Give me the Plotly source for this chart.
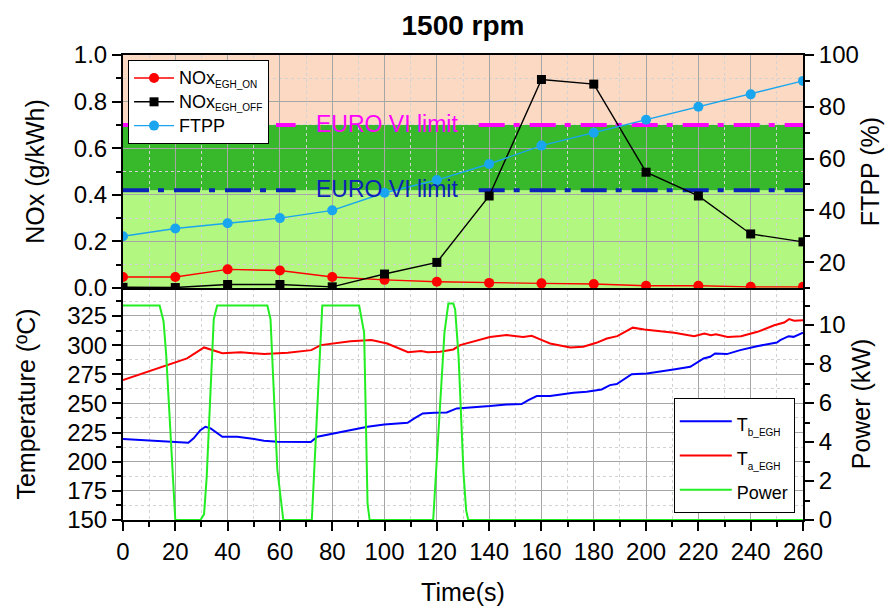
import plotly.graph_objects as go

# ---------------- data ----------------
time_pts = [0, 20, 40, 60, 80, 100, 120, 140, 160, 180, 200, 220, 240, 260]
nox_egh_on = [0.047, 0.047, 0.08, 0.075, 0.047, 0.035, 0.027, 0.022, 0.02, 0.017, 0.01, 0.01, 0.005, 0.005]
nox_egh_off = [0.003, 0.002, 0.015, 0.015, 0.005, 0.06, 0.11, 0.395, 0.895, 0.875, 0.497, 0.395, 0.232, 0.198]
ftpp = [30.0, 33.0, 35.0, 37.0, 40.0, 46.8, 51.7, 57.9, 65.0, 70.0, 75.0, 80.0, 84.8, 90.0]

euro_limit_high = 0.70
euro_limit_low = 0.42

tb_time = [0, 10.5, 19.4, 25, 27, 29.6, 31.5, 33.5, 38, 43.7, 48.8, 53.9, 59, 65.4, 71.8, 74.3, 80.7,
           87, 93.5, 99.9, 108.8, 111.4, 114.6, 119, 123.8, 127.6, 134, 140.3, 146.7, 152.4, 155,
           158.2, 163.3, 172.2, 177.3, 183, 186.2, 188.8, 194.5, 200.3, 210.5, 216.9, 222, 224.5,
           226.4, 230.9, 236, 242.4, 250, 251.3, 254.5, 256.4, 260]
tb_temp = [219.4, 218, 216.6, 216.3, 220, 227, 230, 228.6, 221.4, 221.4, 220, 218, 217.1, 216.9, 216.9,
           221.4, 224.3, 227.7, 230, 232, 233.4, 237.1, 241.4, 242, 242.3, 245.7, 246.6, 247.7, 249.1,
           249.4, 252.9, 256.3, 256.3, 259.1, 260, 262, 265.7, 266.6, 275, 275.7, 279.1, 281.4, 288.6,
           290, 292.9, 292.3, 295.7, 299.1, 302.3, 304.3, 307.7, 307.1, 310.6]

ta_time = [0, 24.5, 31, 38, 45, 54, 63, 72, 75.6, 80.7, 87, 95, 101, 109, 114, 116.5, 121.2, 126.3,
           128.9, 140.3, 146.7, 153, 156.3, 159.5, 163.3, 171, 176, 181, 185, 189, 194.9, 199.3,
           210.8, 218.4, 222.3, 224.8, 226.7, 231.2, 236.3, 242.6, 249, 252.8, 254.7, 256.6, 260]
ta_temp = [270, 288.6, 298, 293, 294, 292.3, 293.4, 295.7, 300, 301.4, 303.4, 304.3, 301.4, 294, 295,
           294, 294.3, 296.3, 300, 307, 308.6, 307, 308, 305, 301.4, 298, 298.6, 302, 305.7, 307.7,
           315, 313.4, 310.6, 307.7, 310, 308.6, 309.4, 307, 307.7, 311.4, 317, 319.4, 322.3, 320.9, 321.4]

power_time = [0, 14, 15.5, 16.5, 20, 29.6, 31, 32, 34.7, 36, 55.2, 56.4, 59, 61.3, 72.2, 76.2, 90.3,
              92.2, 93.5, 94.3, 118.6, 122.9, 124.4, 126.3, 127, 128.3, 130.2, 131.2, 132, 260]
power_kw = [11.0, 11.0, 10.2, 8.5, 0, 0, 0.3, 2.2, 10.3, 11.0, 11.0, 10.3, 2.6, 0, 0, 11.0, 11.0,
            9.6, 0.85, 0, 0, 9.6, 11.1, 11.1, 10.8, 8.4, 2.4, 0.5, 0, 0]

x_ticks = list(range(0, 261, 20))

# ---------------- style ----------------
FONT = "Liberation Sans, Arial, sans-serif"
GRID = "#A6A6A6"
MINOR_GRID = "#D2D2D2"
PEACH = "#FBD9C2"
DARK_GREEN = "#38B82B"
LIGHT_GREEN = "#B2F77F"
MAGENTA = "#FF00FF"
DBLUE = "#0A22B8"
LIMIT_DASH = "26px,9px,6px,10px"
LABEL_SPAN = (66, 136)   # time span occupied by the "EURO VI limit" label


def lbl(main, sub=None, size=18, subsize=10):
    s = f"<span style='font-size:{size}px'>{main}</span>"
    if sub:
        s += f"<sub><span style='font-size:{subsize}px'>{sub}</span></sub>"
    return s


fig = go.Figure()

# background bands (top panel)
for y0, y1, col in [(0, euro_limit_low, LIGHT_GREEN),
                    (euro_limit_low, euro_limit_high, DARK_GREEN),
                    (euro_limit_high, 1.0, PEACH)]:
    fig.add_shape(type="rect", xref="x2 domain", yref="y", x0=0, x1=1, y0=y0, y1=y1,
                  fillcolor=col, line=dict(width=0), layer="below")

# limit lines with gap for labels
t0, t1 = time_pts[0], time_pts[-1]
for lim, col in [(euro_limit_high, MAGENTA), (euro_limit_low, DBLUE)]:
    fig.add_trace(go.Scatter(x=[t0, LABEL_SPAN[0], None, LABEL_SPAN[1], t1],
                             y=[lim, lim, None, lim, lim], xaxis="x2", yaxis="y",
                             mode="lines", line=dict(color=col, width=4, dash=LIMIT_DASH),
                             showlegend=False, hoverinfo="skip"))
    fig.add_annotation(x=101, y=lim, xref="x2", yref="y",
                       text="EURO VI limit", showarrow=False,
                       font=dict(family=FONT, size=23, color=col), yshift=1)

fig.add_trace(go.Scatter(x=time_pts, y=nox_egh_on, xaxis="x2", yaxis="y", mode="lines+markers",
                         name=lbl("NOx", "EGH_ON"), line=dict(color="#FF0000", width=1.4),
                         marker=dict(symbol="circle", size=10, color="#FF0000"), legend="legend"))
fig.add_trace(go.Scatter(x=time_pts, y=nox_egh_off, xaxis="x2", yaxis="y", mode="lines+markers",
                         name=lbl("NOx", "EGH_OFF"), line=dict(color="#000000", width=1.4),
                         marker=dict(symbol="square", size=9, color="#000000"), legend="legend"))
fig.add_trace(go.Scatter(x=time_pts, y=ftpp, xaxis="x2", yaxis="y2", mode="lines+markers",
                         name=lbl("FTPP"), line=dict(color="#1AA6EE", width=1.4),
                         marker=dict(symbol="circle", size=10, color="#1AA6EE"), legend="legend"))

fig.add_trace(go.Scatter(x=tb_time, y=tb_temp, xaxis="x", yaxis="y3", mode="lines",
                         name=lbl("T", "b_EGH"), line=dict(color="#0000FF", width=2), legend="legend2"))
fig.add_trace(go.Scatter(x=ta_time, y=ta_temp, xaxis="x", yaxis="y3", mode="lines",
                         name=lbl("T", "a_EGH"), line=dict(color="#FF0000", width=2), legend="legend2"))
fig.add_trace(go.Scatter(x=power_time, y=power_kw, xaxis="x", yaxis="y4", mode="lines",
                         name=lbl("Power"), line=dict(color="#22EE22", width=2), legend="legend2",
                         cliponaxis=False))

SPLIT = 0.4989
tickfont = dict(family=FONT, size=24, color="#000")
titlefont = dict(family=FONT, size=25, color="#000")

common_y = dict(showline=True, linecolor="#000", linewidth=2, ticks="outside", ticklen=9,
                tickwidth=1.5, tickcolor="#000", tickfont=tickfont, zeroline=False, automargin=False)

fig.update_layout(
    width=893, height=610,
    margin=dict(l=123, r=90, t=55, b=90),
    paper_bgcolor="white", plot_bgcolor="white",
    font=dict(family=FONT, color="#000"),
    title=dict(text="<b>1500 rpm</b>", x=0.5185, xanchor="center", y=0.958, yanchor="middle",
               font=dict(family=FONT, size=28, color="#000")),
    xaxis=dict(domain=[0, 1], anchor="y3", range=[0, 260], tickvals=x_ticks,
               showline=True, linecolor="#000", linewidth=2, ticks="outside", ticklen=9,
               tickwidth=1.5, tickcolor="#000", tickfont=tickfont, zeroline=False,
               showgrid=True, gridcolor=GRID, gridwidth=1, layer="below traces",
               minor=dict(dtick=10, tick0=0, ticks="outside", ticklen=5, tickcolor="#000",
                          showgrid=True, gridcolor=MINOR_GRID, griddash="dot", gridwidth=1),
               title=dict(text="Time(s)", font=titlefont, standoff=20), automargin=False),
    xaxis2=dict(domain=[0, 1], anchor="y", range=[0, 260], matches="x", tickvals=x_ticks,
                showticklabels=False, showline=True, mirror=True, linecolor="#000", linewidth=2,
                ticks="", zeroline=False, showgrid=True, gridcolor=GRID, gridwidth=1,
                minor=dict(dtick=10, tick0=0, showgrid=True, gridcolor=MINOR_GRID,
                           griddash="dot", gridwidth=1)),
    yaxis=dict(domain=[SPLIT, 1], anchor="x2", range=[0, 1], dtick=0.2, tick0=0, tickformat=".1f",
               showgrid=True, gridcolor=GRID, gridwidth=1,
               minor=dict(dtick=0.1, ticks="outside", ticklen=5, tickcolor="#000",
                          showgrid=True, gridcolor=MINOR_GRID, griddash="dot"),
               title=dict(text="NOx (g/kWh)", font=titlefont, standoff=22), **common_y),
    yaxis2=dict(overlaying="y", side="right", anchor="x2", range=[10, 100], dtick=20, tick0=0,
                showgrid=False,
                minor=dict(dtick=10, tick0=0, ticks="outside", ticklen=5, tickcolor="#000"),
                title=dict(text="FTPP (%)", font=titlefont, standoff=4), **common_y),
    yaxis3=dict(domain=[0, SPLIT], anchor="x", range=[150, 349], dtick=25, tick0=150,
                showgrid=True, gridcolor=GRID, gridwidth=1,
                minor=dict(dtick=12.5, tick0=150, ticks="outside", ticklen=5, tickcolor="#000",
                           showgrid=True, gridcolor=MINOR_GRID, griddash="dot"),
                title=dict(text="Temperature (ºC)", font=titlefont, standoff=24), **common_y),
    yaxis4=dict(overlaying="y3", side="right", anchor="x", range=[0, 11.9], dtick=2, tick0=0,
                showgrid=False,
                minor=dict(dtick=1, tick0=0, ticks="outside", ticklen=5, tickcolor="#000"),
                title=dict(text="Power (kW)", font=titlefont, standoff=8), **common_y),
    legend=dict(x=0.0074, y=0.989, xanchor="left", yanchor="top", bgcolor="white",
                bordercolor="#000", borderwidth=1, font=dict(family=FONT, size=16, color="#000"),
                itemwidth=40, tracegroupgap=0),
    legend2=dict(x=0.81, y=0.262, xanchor="left", yanchor="top", bgcolor="white",
                 bordercolor="#000", borderwidth=1, font=dict(family=FONT, size=24, color="#000"),
                 itemwidth=52, tracegroupgap=0),
    showlegend=True,
)

fig.write_html("out.html")
